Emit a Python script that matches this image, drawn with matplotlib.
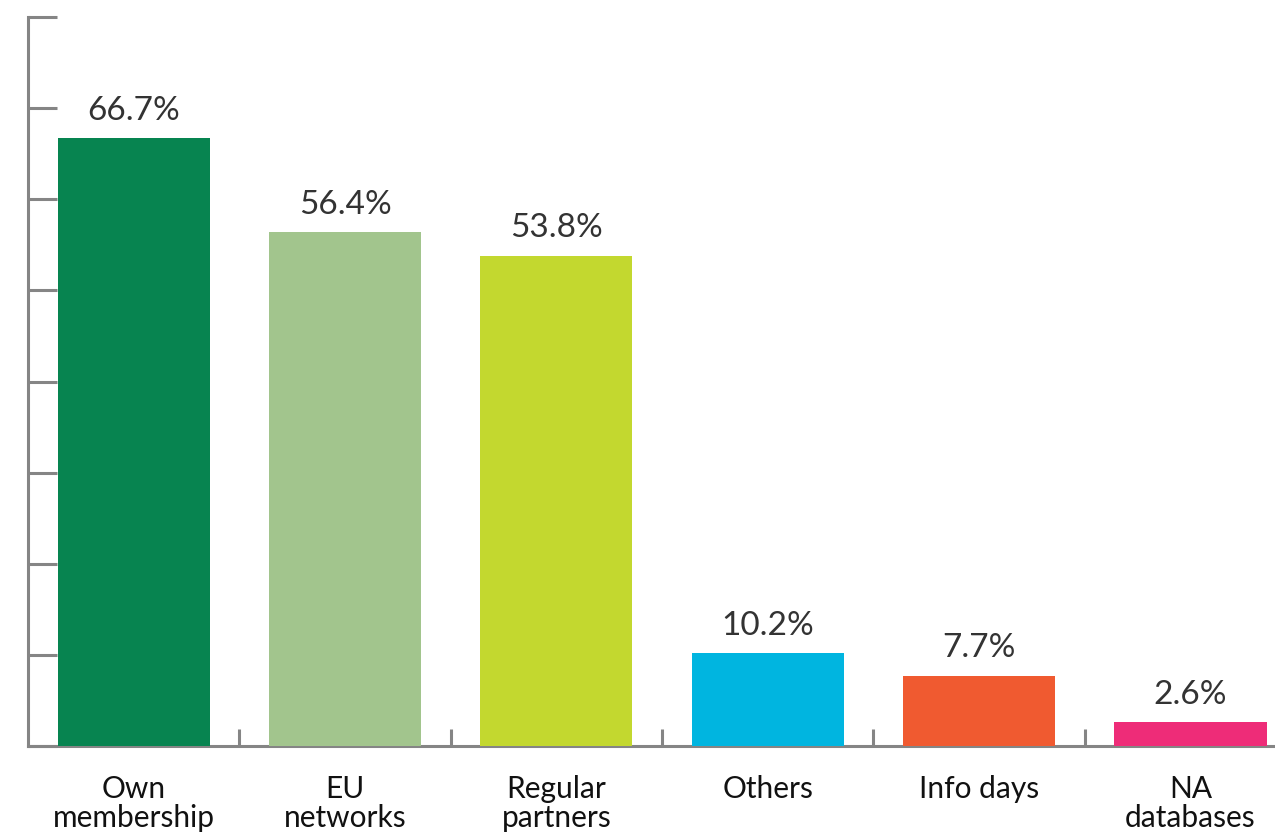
import matplotlib.pyplot as plt
import numpy as np

categories = ['Own\nmembership', 'EU\nnetworks', 'Regular\npartners', 'Others', 'Info days', 'NA\ndatabases']
values = [66.7, 56.4, 53.8, 10.2, 7.7, 2.6]
colors = ['#078450', '#A2C58D', '#C3D82F', '#00B5E0', '#F05A30', '#EE2C78']

axis_grey = '#858585'

fig = plt.figure(figsize=(12.75, 8.32), dpi=100)
ax = fig.add_axes([28/1275, 86/832, 1 - 28/1275, 729/832])

x = np.arange(len(categories))
ax.bar(x, values, width=0.72, color=colors, zorder=3)

for xi, v in zip(x, values):
    ax.annotate(f'{v}%', (xi, v), xytext=(0, 9), textcoords='offset points',
                ha='center', va='bottom', fontsize=24, family='Lato',
                fontweight='normal', color='#333333')

ax.set_xlim(-0.5, 5.4)
ax.set_ylim(0, 80)

for s in ['top', 'right']:
    ax.spines[s].set_visible(False)
for s in ['left', 'bottom']:
    ax.spines[s].set_color(axis_grey)
    ax.spines[s].set_linewidth(2.2)

ax.set_yticks(np.arange(0, 81, 10))
ax.set_yticklabels([])
ax.tick_params(axis='y', direction='in', length=21, width=2.2, color=axis_grey)

ax.set_xticks(np.arange(0.5, 5, 1))
ax.set_xticklabels([])
ax.set_xticks(x, minor=True)
ax.set_xticklabels(categories, minor=True, fontsize=21.5, family='Lato', color='#111111',
                   linespacing=1.05)
ax.tick_params(axis='x', which='major', direction='in', length=12, width=2.2, color=axis_grey)
ax.tick_params(axis='x', which='minor', length=0, pad=21)

for t in ax.yaxis.get_major_ticks():
    t.tick1line.set_clip_on(False)

fig.savefig('out.png', dpi=100)
